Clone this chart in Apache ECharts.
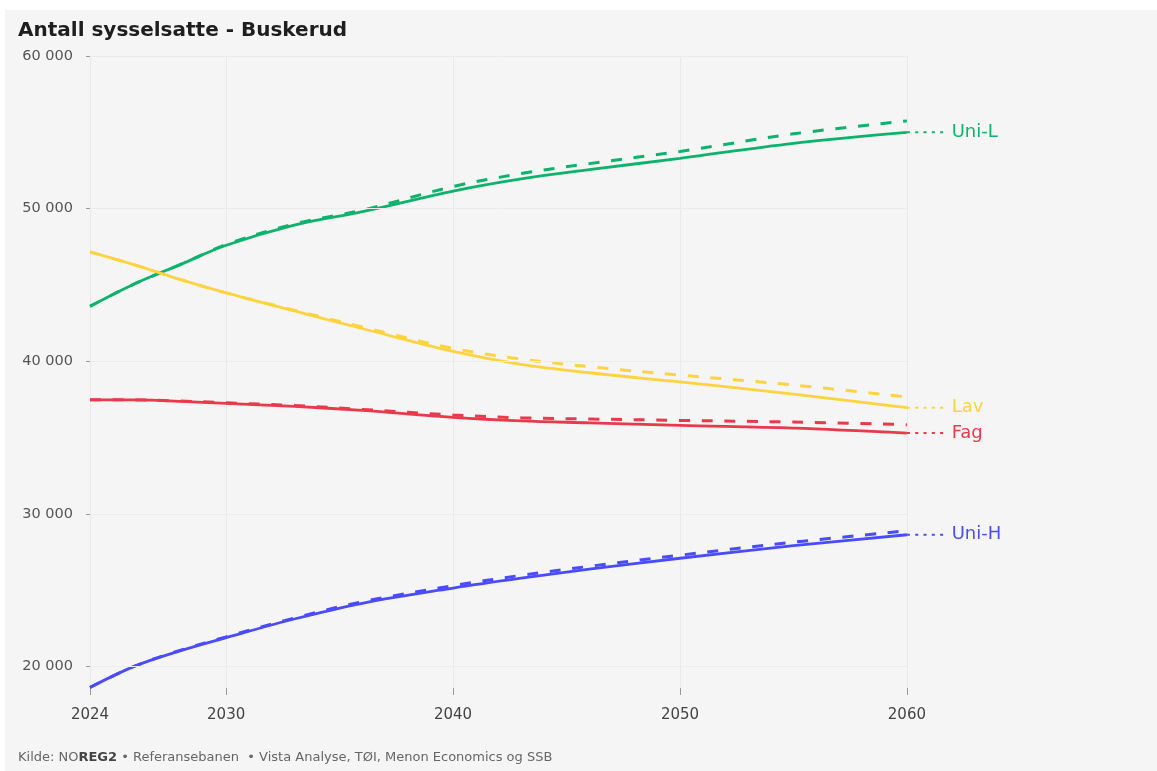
<!DOCTYPE html>
<html>
<head>
<meta charset="utf-8">
<script src="https://cdn.jsdelivr.net/npm/echarts@6/dist/echarts.min.js"></script>
<style>
  html, body { margin: 0; padding: 0; background: #ffffff; }
  #panel { position: absolute; left: 5px; top: 10px; right: 0; bottom: 0; background: #f5f5f5; }
  #chart { position: absolute; left: 0; top: 0; width: 1157px; height: 771px; }
</style>
</head>
<body>
<div id="panel"></div>
<div id="chart"></div>
<script>
// Antall sysselsatte i Buskerud etter utdanningsgruppe, referansebanen (heltrukket) og alternativ bane (stiplet)
const years = [2024, 2026, 2028, 2030, 2033, 2036, 2040, 2043, 2046, 2050, 2055, 2060];

const uniLSolid  = [43600, 45100, 46350, 47600, 48920, 49800, 51150, 51950, 52550, 53300, 54280, 55000];
const uniLDashed = [43600, 45100, 46350, 47650, 49000, 49900, 51450, 52300, 52950, 53750, 54900, 55750];

const lavSolid  = [47170, 46300, 45350, 44480, 43300, 42150, 40650, 39800, 39250, 38650, 37850, 36960];
const lavDashed = [47170, 46300, 45350, 44480, 43350, 42250, 40850, 40150, 39650, 39100, 38450, 37660];

const fagSolid  = [37480, 37470, 37380, 37240, 37050, 36780, 36330, 36100, 35970, 35800, 35620, 35300];
const fagDashed = [37480, 37470, 37400, 37280, 37100, 36850, 36480, 36300, 36220, 36130, 36020, 35850];

const uniHSolid  = [18640, 20050, 21050, 21900, 23120, 24150, 25150, 25800, 26380, 27100, 27920, 28640];
const uniHDashed = [18640, 20050, 21080, 21950, 23180, 24250, 25300, 25980, 26570, 27300, 28150, 28900];

const groupNames  = ['Uni-L', 'Lav', 'Fag', 'Uni-H'];
const groupColors = ['#0db36c', '#fdd33f', '#e83a4b', '#4a4bfb'];

const xTicks = [2024, 2030, 2040, 2050, 2060];
const yTicks = [20000, 30000, 40000, 50000, 60000];
// the x range runs a little past the last year to leave room for the dotted label leaders
const xMax = 2062;
const labelEndYear = 2061.75;

const solidSets  = [uniLSolid, lavSolid, fagSolid, uniHSolid];
const dashedSets = [uniLDashed, lavDashed, fagDashed, uniHDashed];

const firstYear = years[0];
const lastYear = years[years.length - 1];
const pairs = vals => years.map((y, i) => [y, vals[i]]);
const fmt = v => String(v).replace(/\B(?=(\d{3})+(?!\d))/g, ' ');
const FONT = 'DejaVu Sans';

const series = [];

// horizontal grid lines, stopping at the last year
series.push({
  name: 'grid', type: 'line', data: [], silent: true, z: 1,
  markLine: {
    silent: true, symbol: 'none', animation: false,
    label: { show: false },
    lineStyle: { color: '#ececec', width: 1, type: 'solid' },
    data: yTicks.map(t => [{ coord: [firstYear, t] }, { coord: [lastYear, t] }])
  }
});

groupNames.forEach((name, g) => {
  series.push({
    name: name + ' (alt.)', type: 'line', data: pairs(dashedSets[g]),
    smooth: 0.35, symbol: 'none', z: 2,
    lineStyle: { color: groupColors[g], width: 3, type: [11, 11.67] }
  });
  series.push({
    name: name, type: 'line', data: pairs(solidSets[g]),
    smooth: 0.35, symbol: 'none', z: 3,
    lineStyle: { color: groupColors[g], width: 2.8 }
  });
  const last = solidSets[g][solidSets[g].length - 1];
  series.push({
    name: name + ' label', type: 'line', clip: false,
    data: [[lastYear, last], [labelEndYear, last]],
    symbol: 'none', z: 3,
    lineStyle: { color: groupColors[g], width: 2, type: [3, 5.3] },
    endLabel: {
      show: true, formatter: name, distance: 5,
      color: groupColors[g], fontSize: 18, fontFamily: FONT
    }
  });
});

const chart = echarts.init(document.getElementById('chart'), null, { renderer: 'canvas' });
chart.setOption({
  animation: false,
  backgroundColor: 'transparent',
  textStyle: { fontFamily: FONT },
  grid: { left: 90, right: 204.7, top: 56, bottom: 83, containLabel: false },
  xAxis: {
    type: 'value', min: 2024, max: xMax,
    axisLine: { show: false },
    axisTick: { show: true, length: 7, customValues: xTicks, lineStyle: { color: '#9a9a9a', width: 1 } },
    axisLabel: { customValues: xTicks, margin: 20, color: '#444', fontSize: 15, fontFamily: FONT, formatter: v => String(v) },
    splitLine: { show: true, lineStyle: { color: '#e9e9e9', width: 1 } }
  },
  yAxis: {
    type: 'value', min: 18600, max: 60000,
    axisLine: { show: false },
    axisTick: { show: true, length: 4, customValues: yTicks, lineStyle: { color: '#9a9a9a', width: 1 } },
    axisLabel: { customValues: yTicks, margin: 17, color: '#555', fontSize: 14.5, fontFamily: FONT, formatter: fmt },
    splitLine: { show: false }
  },
  graphic: [
    {
      type: 'text', x: 18, y: 31,
      style: { text: 'Antall sysselsatte - Buskerud', fontSize: 20, fontWeight: 'bold', fontFamily: FONT, fill: '#1e1e1e', verticalAlign: 'middle' }
    },
    {
      type: 'text', x: 18, y: 758,
      style: {
        text: '{n|Kilde: NO}{b|REG2}{n| • Referansebanen  • Vista Analyse, TØI, Menon Economics og SSB}',
        verticalAlign: 'middle',
        rich: {
          n: { fontSize: 13, fontFamily: FONT, fill: '#666' },
          b: { fontSize: 13, fontFamily: FONT, fontWeight: 'bold', fill: '#444' }
        }
      }
    }
  ],
  series: series
});
</script>
</body>
</html>
